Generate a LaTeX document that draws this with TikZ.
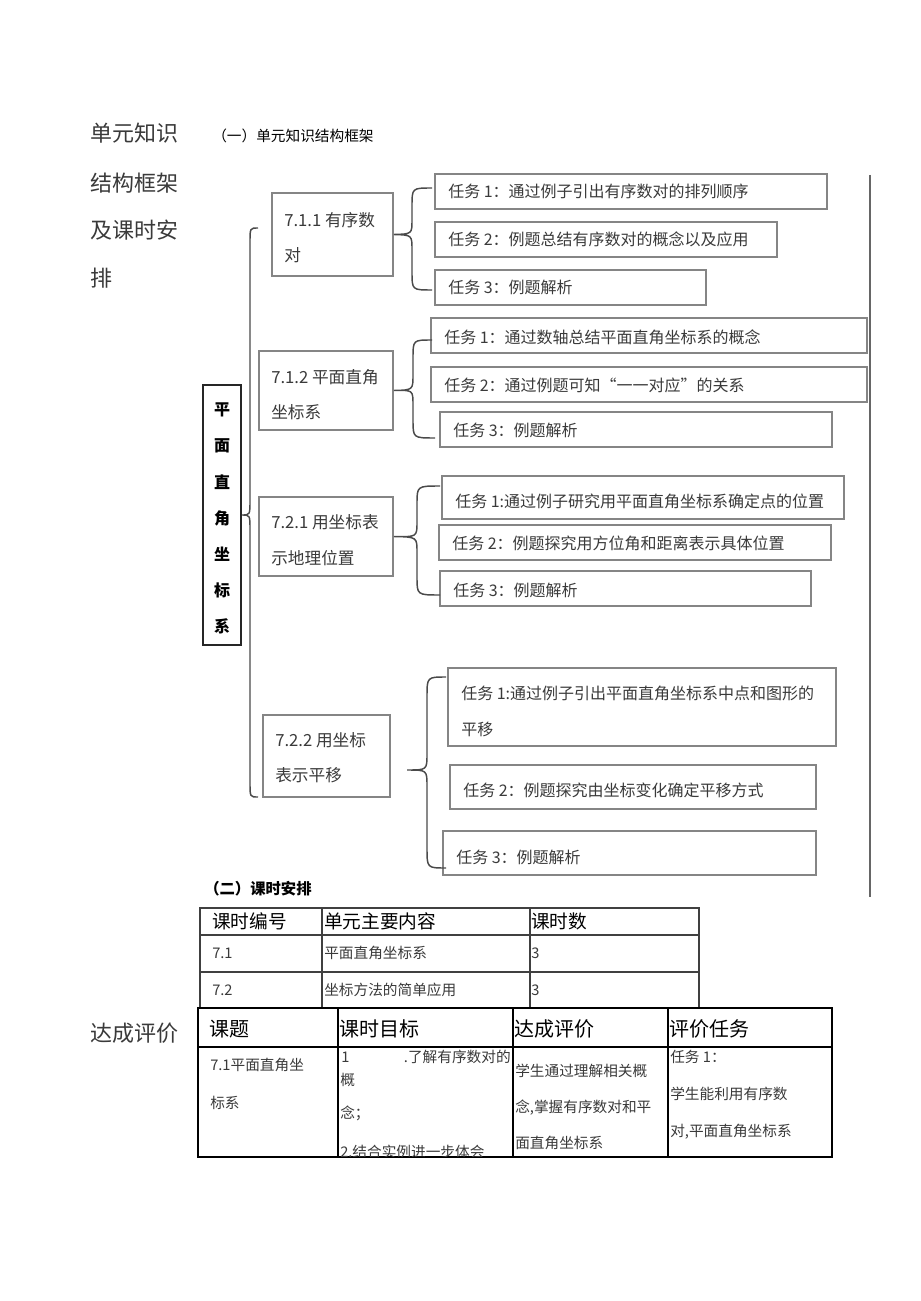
\documentclass[tikz,border=0pt]{standalone}
\usepackage{fontspec}
\setmainfont{Noto Sans CJK SC}
\usetikzlibrary{fit}
\definecolor{txtc}{HTML}{3A3A3A}
\definecolor{boxc}{HTML}{858585}
\definecolor{linec}{HTML}{4A4A4A}
\tikzset{
  boxst/.style={draw=boxc, line width=1.2pt, inner sep=0pt},
  txt/.style={anchor=west, inner sep=0pt, text=txtc, font=\fontsize{12pt}{14pt}\selectfont},
  sectxt/.style={anchor=west, inner sep=0pt, text=txtc, font=\fontsize{12.5pt}{14pt}\selectfont},
  bigtxt/.style={anchor=west, inner sep=0pt, text=txtc, font=\fontsize{16.5pt}{18pt}\selectfont},
  cell/.style={anchor=west, inner sep=0pt, text=txtc, font=\fontsize{11pt}{13pt}\selectfont},
  head/.style={anchor=west, inner sep=0pt, text=black, font=\fontsize{14pt}{16pt}\selectfont},
  bracest/.style={draw=linec, line width=1.1pt},
  tline/.style={draw=black!75, line width=0.8pt}
}
\begin{document}
\begin{tikzpicture}[x=0.75pt,y=-0.75pt]
\useasboundingbox (0,0) rectangle (920,1301);
\fill[white] (0,0) rectangle (920,1301);

% left titles
\node[bigtxt] (l1) at (90,133) {单元知识};
\node[bigtxt] (l2) at (90,183) {结构框架};
\node[bigtxt] (l3) at (90,230) {及课时安};
\node[bigtxt] (l4) at (90,278) {排};
\node[bigtxt] (l5) at (90,1033) {达成评价};

\node[anchor=west, inner sep=0pt, font=\fontsize{11pt}{13pt}\selectfont] (h1) at (212,136) {（一）单元知识结构框架};

% vertical main box
\node[draw=black!85, line width=1.6pt, inner sep=0pt, fit={(203,385) (241,645)}] (v) {};
\foreach \c [count=\i from 0] in {平,面,直,角,坐,标,系}{
  \node[inner sep=0pt, font=\fontsize{12pt}{14pt}\selectfont\bfseries] at (222,410+36*\i) {\c};
}

% section boxes
\node[boxst, fit={(272,193) (393,276)}] (s1) {};
\node[sectxt] at (284,220) {7.1.1 有序数};
\node[sectxt] at (284,255) {对};
\node[boxst, fit={(259,351) (393,430)}] (s2) {};
\node[sectxt] at (271,377) {7.1.2 平面直角};
\node[sectxt] at (271,412) {坐标系};
\node[boxst, fit={(259,497) (393,576)}] (s3) {};
\node[sectxt] at (271,522) {7.2.1 用坐标表};
\node[sectxt] at (271,558) {示地理位置};
\node[boxst, fit={(263,715) (390,797)}] (s4) {};
\node[sectxt] at (275,740) {7.2.2 用坐标};
\node[sectxt] at (275,775) {表示平移};

% task boxes
\node[boxst, fit={(435,174) (827,209)}] (t11) {};
\node[txt] at (448,191) {任务 1：通过例子引出有序数对的排列顺序};
\node[boxst, fit={(435,222) (777,257)}] (t12) {};
\node[txt] at (448,239) {任务 2：例题总结有序数对的概念以及应用};
\node[boxst, fit={(435,270) (706,305)}] (t13) {};
\node[txt] at (448,287) {任务 3：例题解析};

\node[boxst, fit={(431,318) (867,353)}] (t21) {};
\node[txt] at (444,337) {任务 1：通过数轴总结平面直角坐标系的概念};
\node[boxst, fit={(431,367) (867,402)}] (t22) {};
\node[txt] at (444,385) {任务 2：通过例题可知“一一对应”的关系};
\node[boxst, fit={(440,412) (832,447)}] (t23) {};
\node[txt] at (453,430) {任务 3：例题解析};

\node[boxst, fit={(442,476) (844,519)}] (t31) {};
\node[txt] at (455,501) {任务 1:通过例子研究用平面直角坐标系确定点的位置};
\node[boxst, fit={(439,525) (831,560)}] (t32) {};
\node[txt] at (452,543) {任务 2：例题探究用方位角和距离表示具体位置};
\node[boxst, fit={(440,571) (811,606)}] (t33) {};
\node[txt] at (453,590) {任务 3：例题解析};

\node[boxst, fit={(448,668) (836,746)}] (t41) {};
\node[txt] at (461,693) {任务 1:通过例子引出平面直角坐标系中点和图形的};
\node[txt] at (461,729) {平移};
\node[boxst, fit={(450,765) (816,809)}] (t42) {};
\node[txt] at (463,790) {任务 2：例题探究由坐标变化确定平移方式};
\node[boxst, fit={(443,831) (816,875)}] (t43) {};
\node[txt] at (456,857) {任务 3：例题解析};

% braces (tip at parent box east)
\draw[bracest] (432,188) .. controls (412,188) .. (412,206) -- (412,220)
  .. controls (412,234) .. (s1.east) .. controls (412,235) .. (412,250)
  -- (412,272) .. controls (412,290) .. (432,290);
\draw[bracest] (432,340) .. controls (413,340) .. (413,358) -- (413,375)
  .. controls (413,390) .. (s2.east) .. controls (413,390) .. (413,405)
  -- (413,420) .. controls (413,438) .. (435,438);
\draw[bracest] (440,486) .. controls (417,486) .. (417,504) -- (417,522)
  .. controls (417,537) .. (s3.east) .. controls (417,537) .. (417,552)
  -- (417,577) .. controls (417,595) .. (440,595);
\coordinate (c4) at (407,770);
\draw[bracest] (446,677) .. controls (427,677) .. (427,697) -- (427,754)
  .. controls (427,770) .. (c4) .. controls (427,770) .. (427,786)
  -- (427,848) .. controls (427,868) .. (446,868);
\draw[bracest] (258,228) .. controls (250,228) .. (250,242) -- (250,500)
  .. controls (250,515) .. (v.east) .. controls (250,515) .. (250,530)
  -- (250,783) .. controls (250,797) .. (258,797);

% right vertical line
\draw[draw=black!60, line width=0.9pt] (870,175) -- (870,897);

% (二)
\node[anchor=west, inner sep=0pt, font=\fontsize{11.5pt}{13pt}\selectfont\bfseries] (h2) at (204,889) {（二）课时安排};

% table 1
\draw[tline] (200,908) rectangle (699,1008);
\draw[tline] (200,935) -- (699,935) (200,972) -- (699,972);
\draw[tline] (322,908) -- (322,1008) (530,908) -- (530,1008);
\node[head] at (212,921) {课时编号};
\node[head] at (324,921) {单元主要内容};
\node[head] at (531,921) {课时数};
\node[cell] at (212,953) {7.1};
\node[cell] at (324,953) {平面直角坐标系};
\node[cell] at (531,953) {3};
\node[cell] at (212,990) {7.2};
\node[cell] at (324,990) {坐标方法的简单应用};
\node[cell] at (531,990) {3};

% table 2
\draw[tline, draw=black] (198,1008) rectangle (832,1157);
\draw[tline, draw=black] (198,1047) -- (832,1047);
\draw[tline, draw=black] (338,1008) -- (338,1157) (513,1008) -- (513,1157) (668,1008) -- (668,1157);
\node[head, font=\fontsize{15pt}{17pt}\selectfont] at (209,1029) {课题};
\node[head, font=\fontsize{15pt}{17pt}\selectfont] at (339,1029) {课时目标};
\node[head, font=\fontsize{15pt}{17pt}\selectfont] at (514,1029) {达成评价};
\node[head, font=\fontsize{15pt}{17pt}\selectfont] at (669,1029) {评价任务};
\node[cell] at (210,1065) {7.1平面直角坐};
\node[cell] at (210,1103) {标系};
\node[cell] at (341,1057) {1};
\node[cell, anchor=east] at (511,1057) {.了解有序数对的};
\node[cell] at (340,1080) {概};
\node[cell] at (340,1113) {念；};
\begin{scope}
\clip (339,1048) rectangle (512,1156);
\node[cell] at (340,1152) {2.结合实例进一步体会};
\end{scope}
\node[cell] at (515,1071) {学生通过理解相关概};
\node[cell] at (515,1108) {念,掌握有序数对和平};
\node[cell] at (515,1143) {面直角坐标系};
\node[cell] at (670,1057) {任务 1：};
\node[cell] at (670,1094) {学生能利用有序数};
\node[cell] at (670,1132) {对,平面直角坐标系};
\end{tikzpicture}
\end{document}
